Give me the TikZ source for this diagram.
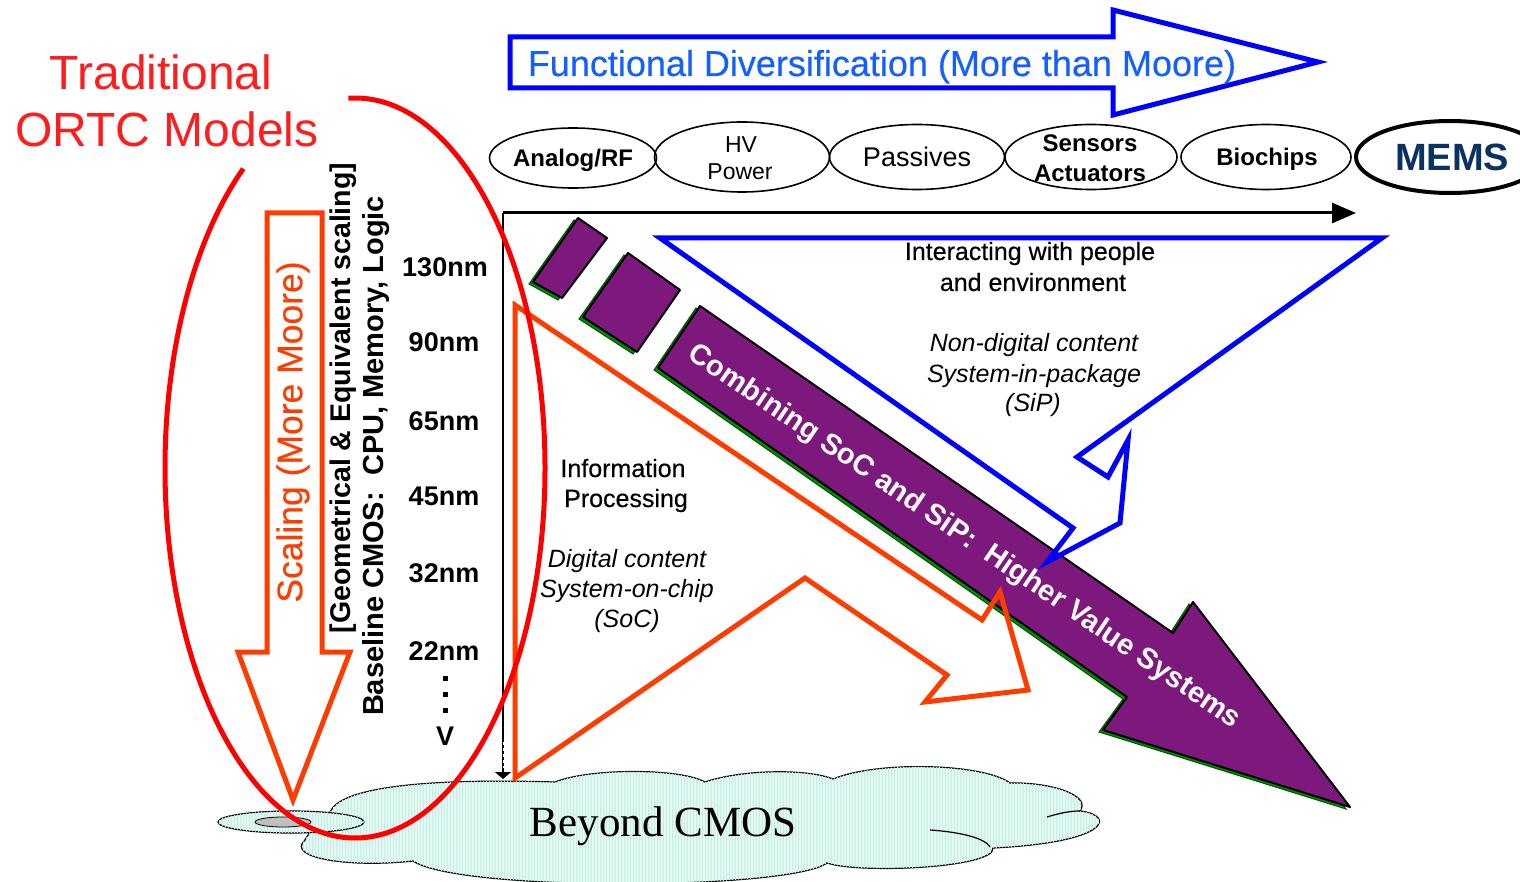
\documentclass[tikz,border=0pt]{standalone}
\usepackage{fontspec}
\setmainfont{Liberation Sans}
\newfontfamily\serifface{Liberation Serif}
\newfontfamily\heavyface[FakeBold=0.4]{Liberation Sans}
\usetikzlibrary{shapes.geometric,arrows.meta,patterns}

\definecolor{pureblue}{RGB}{0,0,255}
\definecolor{titleblue}{RGB}{20,95,255}
\definecolor{moorered}{RGB}{255,60,0}
\definecolor{ellred}{RGB}{255,0,0}
\definecolor{tradred}{RGB}{255,28,28}
\definecolor{soccolor}{RGB}{125,25,125}
\definecolor{socedge}{RGB}{0,140,0}
\definecolor{cloudfill}{RGB}{226,248,242}
\definecolor{cloudline}{RGB}{198,236,228}
\definecolor{memsblue}{RGB}{10,50,100}

\newcommand\fsz[1]{\fontsize{#1}{#1}\selectfont}

\begin{document}
\begin{tikzpicture}[x=1pt,y=-1pt,
  blob/.style={ellipse, draw=black, line width=1.6pt, inner sep=0pt},
  lbl/.style={anchor=base, inner sep=0pt},
  nmlbl/.style={lbl, font=\bfseries\fsz{27}},
  tagbold/.style={lbl, font=\bfseries\fsz{24}},
  tagreg/.style={lbl, font=\fsz{23}},
  note/.style={lbl, font=\heavyface\fsz{25}},
  noteit/.style={lbl, font=\itshape\fsz{25}},
  hollow/.style={line width=5pt, line join=miter},
  cloudbody/.style={draw=black, line width=1.2pt, fill=cloudfill,
    postaction={pattern=vertical lines, pattern color=cloudline}},
  chip/.style={fill=soccolor, draw=black, line width=2pt, line join=round},
  chipedge/.style={fill=socedge, draw=socedge!60!black, line width=1pt},
]
\useasboundingbox (0,0) rectangle (1520,882);

% ---------- Beyond CMOS cloud ----------
\path[cloudbody]
  (330,812) .. controls (340,788) and (420,778) .. (555,782)
  .. controls (590,768) and (680,768) .. (705,782)
  .. controls (740,770) and (805,768) .. (833,779)
  .. controls (880,760) and (985,764) .. (1010,783)
  .. controls (1050,782) and (1092,795) .. (1080,811)
  .. controls (1115,815) and (1112,842) .. (993,848)
  .. controls (995,868) and (860,874) .. (827,863)
  .. controls (790,890) and (460,892) .. (413,861)
  .. controls (350,868) and (285,858) .. (305,840)
  .. controls (310,830) and (320,822) .. (330,812) -- cycle;
\draw[line width=1.2pt] (930,830) .. controls (960,832) and (985,838) .. (990,847);
\draw[line width=1.2pt] (1047,817) .. controls (1060,813) and (1070,811) .. (1080,811);
\path[cloudbody] (291,822) ellipse [x radius=73, y radius=11];
\draw[fill=gray!50, line width=0.8pt] (283,822) ellipse [x radius=28, y radius=5];
\node[lbl, font=\serifface\fsz{43}] (beyond) at (663,836) {Beyond CMOS};

% ---------- More than Moore arrow ----------
\draw[hollow, pureblue]
  (510,37) -- (1113,37) -- (1113,10) -- (1318,62) -- (1113,115) -- (1113,88) -- (510,88) -- cycle;
\node[lbl, text=titleblue, font=\heavyface\fsz{36}] (mtm) at (882,76)
  {Functional Diversification (More than Moore)};

% ---------- functions row ----------
\node[blob, minimum width=167pt, minimum height=60pt] (analog) at (573,158) {};
\node[blob, minimum width=175pt, minimum height=70pt] (hv) at (742,157) {};
\node[blob, minimum width=175pt, minimum height=65pt] (passives) at (917,157) {};
\node[blob, minimum width=172pt, minimum height=65pt] (sensors) at (1091,157) {};
\node[blob, minimum width=170pt, minimum height=65pt] (bio) at (1266,157) {};
\node[blob, line width=4pt, minimum width=188pt, minimum height=72pt] (mems) at (1450,157) {};

\node[tagbold] (analogT) at (573,167) {Analog/RF};
\node[tagreg] (hvT) at (741,153) {HV};
\node[tagreg] (powerT) at (740,180) {Power};
\node[lbl, font=\fsz{27}] (passT) at (917,167) {Passives};
\node[tagbold] (sensT) at (1090,152) {Sensors};
\node[tagbold] (actT) at (1090,182) {Actuators};
\node[tagbold] (bioT) at (1267,166) {Biochips};
\node[lbl, text=memsblue, font=\bfseries\fsz{38}] (memsT) at (1452,171) {MEMS};

% ---------- axes ----------
\coordinate (origin) at (503,213);
\coordinate (xend) at (1356,213);
\coordinate (yend) at (503,779);
\coordinate (gapA) at (503,742);
\coordinate (gapB) at (503,768);
\draw[line width=3pt, -{Triangle[length=24pt,width=20pt]}] (origin) -- (xend);
\draw[line width=2.5pt, -{Triangle[length=7pt,width=16pt]}] (origin) -- (yend);
\draw[white, line width=1pt, dash pattern=on 3pt off 3pt] (gapA) -- (gapB);

% ---------- SoC + SiP arrow ----------
\fill[chipedge] ([shift={(-4,2)}]578,218) -- ([shift={(-4,2)}]607,238) -- ([shift={(-4,2)}]562,298) -- ([shift={(-4,2)}]533,282) -- cycle;
\path[chip] (578,218) -- (607,238) -- (562,298) -- (533,282) -- cycle;
\fill[chipedge] ([shift={(-4,2)}]628,253) -- ([shift={(-4,2)}]680,290) -- ([shift={(-4,2)}]637,352) -- ([shift={(-4,2)}]583,317) -- cycle;
\path[chip] (628,253) -- (680,290) -- (637,352) -- (583,317) -- cycle;
\fill[chipedge] ([shift={(-4,2)}]700,306) -- ([shift={(-4,2)}]1173,633) -- ([shift={(-4,2)}]1193,602)
  -- ([shift={(-4,2)}]1350,807) -- ([shift={(-4,2)}]1103,730) -- ([shift={(-4,2)}]1127,697)
  -- ([shift={(-4,2)}]658,368) -- cycle;
\path[chip] (700,306) -- (1173,633) -- (1193,602) -- (1350,807) -- (1103,730) -- (1127,697) -- (658,368) -- cycle;
\node[text=white, font=\bfseries\fsz{29}, rotate=-34.2, inner sep=0pt] (soc) at (964,537)
  {Combining SoC and SiP:\ \ Higher Value Systems};

% ---------- More than Moore (diagonal) ----------
\draw[hollow, pureblue]
  (660,238) -- (1382,238) -- (1077,457) -- (1108,477) -- (1128,440) -- (1120,523) -- (1047,562) -- (1073,528) -- cycle;
\node[note] (inter1) at (1030,260) {Interacting with people};
\node[note] (inter2) at (1033,291) {and environment};
\node[noteit] (nd1) at (1034,352) {Non-digital content};
\node[noteit] (nd2) at (1034,382) {System-in-package};
\node[noteit] (nd3) at (1033,411) {(SiP)};

% ---------- information processing arrow ----------
\draw[hollow, moorered]
  (515,305) -- (982,620) -- (1000,592) -- (1028,690) -- (925,702) -- (947,675) -- (805,578) -- (515,778) -- cycle;
\node[note] (info1) at (623,477) {Information};
\node[note] (info2) at (626,507) {Processing};
\node[noteit] (dc1) at (627,567) {Digital content};
\node[noteit] (dc2) at (627,597) {System-on-chip};
\node[noteit] (dc3) at (627,627) {(SoC)};

% ---------- More Moore arrow ----------
\draw[hollow, moorered]
  (267,213) -- (322,213) -- (322,652) -- (350,652) -- (293,800) -- (238,652) -- (267,652) -- cycle;
\node[text=moorered, font=\heavyface\fsz{35.5}, rotate=90, inner sep=0pt] (scaling) at (293,432) {Scaling (More Moore)};
\node[font=\bfseries\fsz{28.5}, rotate=90, inner sep=0pt] (geom) at (343,398) {[Geometrical \& Equivalent scaling]};
\node[font=\bfseries\fsz{29}, rotate=90, inner sep=0pt] (baseline) at (376,456) {Baseline CMOS:\ \ CPU, Memory, Logic};

\node[nmlbl] (n130) at (445,277) {130nm};
\node[nmlbl] (n90) at (444,352) {90nm};
\node[nmlbl] (n65) at (444,430) {65nm};
\node[nmlbl] (n45) at (444,505) {45nm};
\node[nmlbl] (n32) at (444,582) {32nm};
\node[nmlbl] (n22) at (444,660) {22nm};
\node[fill=black, minimum size=5pt, inner sep=0pt] (dot1) at (445,678) {};
\node[fill=black, minimum size=5pt, inner sep=0pt] (dot2) at (445,694) {};
\node[fill=black, minimum size=5pt, inner sep=0pt] (dot3) at (445,710) {};
\node[nmlbl] (vmark) at (445,745) {V};

% ---------- traditional ORTC models ----------
\draw[ellred, line width=5pt]
  ([shift={(-92:190 and 370)}]355,468) arc[start angle=-92, end angle=234, x radius=190, y radius=370];
\node[lbl, text=tradred, font=\fsz{48}] (trad1) at (161,90) {Traditional};
\node[lbl, text=tradred, font=\fsz{48}] (trad2) at (167,147) {ORTC Models};
\end{tikzpicture}
\end{document}
